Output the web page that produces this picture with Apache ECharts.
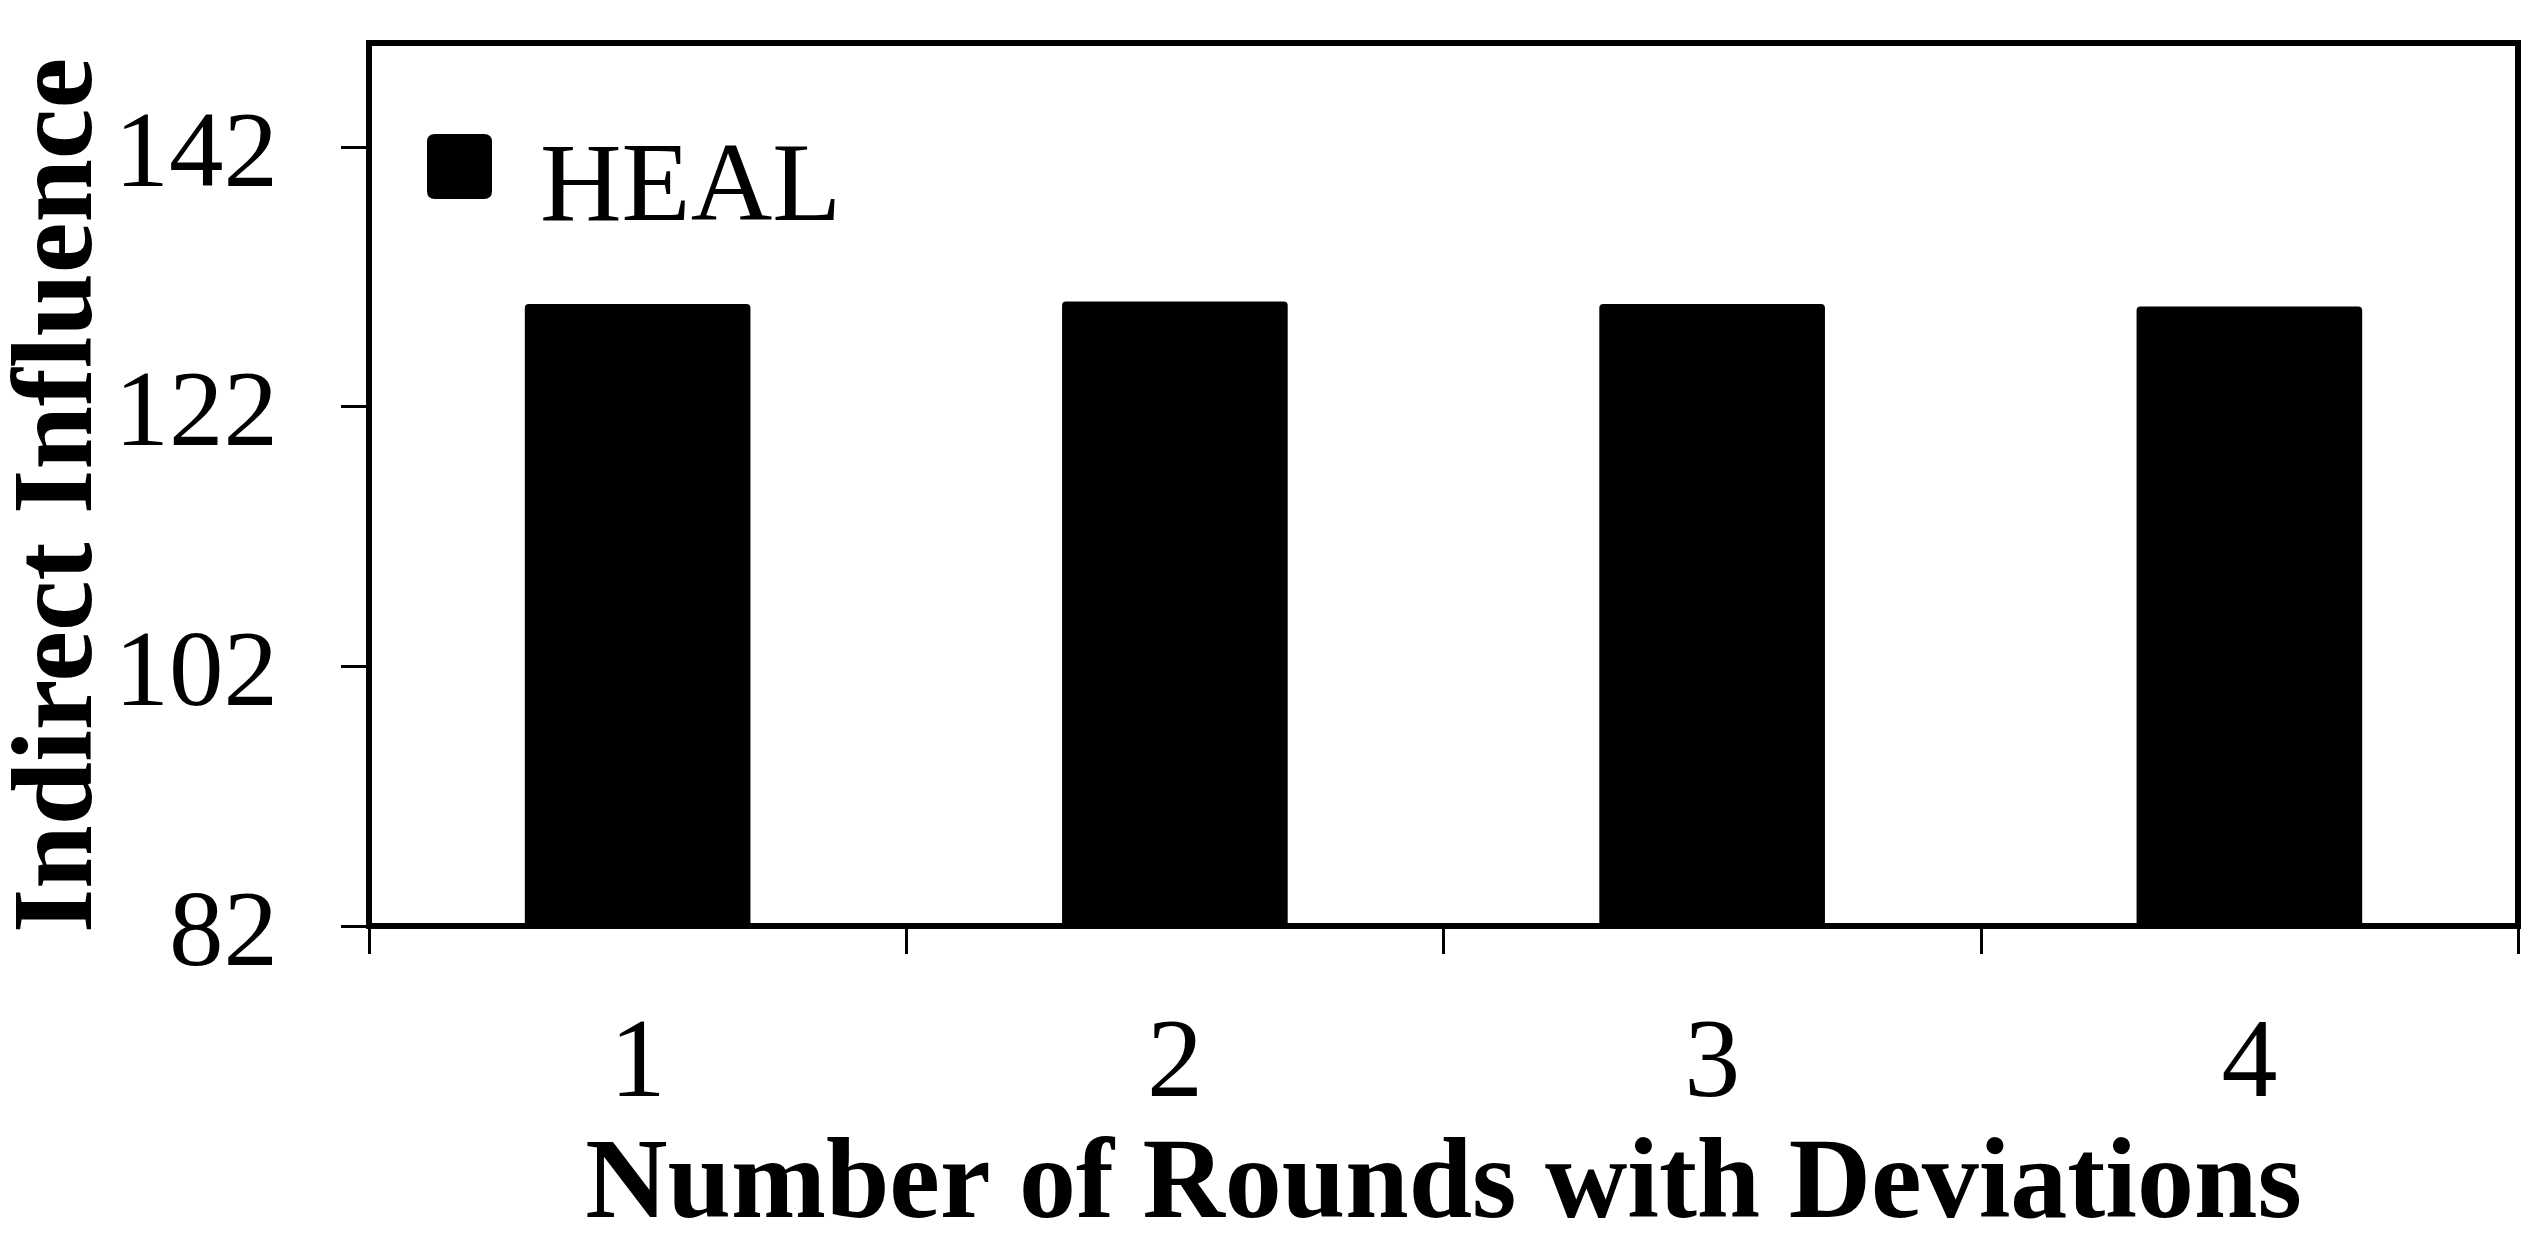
<!DOCTYPE html>
<html style="height: 100%">
<head>
    <meta charset="utf-8">
</head>
<body style="height: 100%; margin: 0; background: #fff">
    <div id="container" style="width: 2538px; height: 1236px"></div>
    <script type="text/javascript" src="https://cdn.jsdelivr.net/npm/echarts@6/dist/echarts.min.js"></script>
    <script type="text/javascript">
        // chart data
        var rounds = ['1', '2', '3', '4'];
        var healValues = [129.9, 130.1, 129.9, 129.7];
        var yTicks = [82, 102, 122, 142];
        var seriesName = 'HEAL';

        var font = 'Liberation Serif';
        var dom = document.getElementById('container');
        var myChart = echarts.init(dom);

        var option = {
            animation: false,
            backgroundColor: '#fff',
            grid: {
                left: 369,
                right: 20,
                top: 43,
                bottom: 310,
                outerBoundsMode: 'none',
                containLabel: false,
                show: true,
                borderColor: '#000',
                borderWidth: 6
            },
            legend: {
                left: 427,
                top: 105,
                padding: 0,
                itemWidth: 65,
                itemHeight: 65,
                icon: 'path://M8,0H57Q65,0,65,8V57Q65,65,57,65H8Q0,65,0,57V8Q0,0,8,0Z',
                data: [seriesName],
                // empty first line pushes the name a little below the icon
                formatter: function (name) {
                    return '{s| }\n{n|' + name + '}';
                },
                textStyle: {
                    fontFamily: font,
                    fontSize: 113,
                    color: '#000',
                    padding: [0, 0, 0, 43],
                    rich: {
                        s: { fontSize: 10, lineHeight: 48 },
                        n: { fontFamily: font, fontSize: 113, lineHeight: 113, color: '#000' }
                    }
                }
            },
            xAxis: {
                type: 'category',
                data: rounds,
                name: 'Number of Rounds with Deviations',
                nameLocation: 'middle',
                nameGap: 205,
                nameTextStyle: {
                    fontFamily: font,
                    fontWeight: 'bold',
                    fontSize: 114,
                    color: '#000'
                },
                axisLine: { lineStyle: { color: '#000', width: 6 } },
                axisTick: { show: true, length: 28, lineStyle: { color: '#000', width: 3 } },
                axisLabel: {
                    margin: 85,
                    fontFamily: font,
                    fontSize: 112,
                    color: '#000'
                }
            },
            yAxis: {
                type: 'value',
                min: 82,
                max: 150,
                name: 'Indirect Influence',
                nameLocation: 'middle',
                nameGap: 250,
                nameMoveOverlap: false,
                nameTextStyle: {
                    fontFamily: font,
                    fontWeight: 'bold',
                    fontSize: 114,
                    color: '#000',
                    padding: [0, 22, 0, 0]
                },
                splitLine: { show: false },
                axisLine: { show: true, lineStyle: { color: '#000', width: 6 } },
                axisTick: {
                    show: true,
                    length: 28,
                    customValues: yTicks,
                    lineStyle: { color: '#000', width: 3 }
                },
                axisLabel: {
                    margin: 91,
                    customValues: yTicks,
                    formatter: function (v) {
                        return '{s| }\n{n|' + v + '}';
                    },
                    rich: {
                        s: { fontSize: 10, lineHeight: 20 },
                        n: { fontFamily: font, fontSize: 109, lineHeight: 114, color: '#000' }
                    }
                }
            },
            series: [{
                name: seriesName,
                type: 'bar',
                barWidth: '42%',
                data: healValues,
                itemStyle: {
                    color: '#000',
                    borderRadius: [4, 4, 0, 0]
                }
            }]
        };
        myChart.setOption(option);
    </script>
</body>
</html>
